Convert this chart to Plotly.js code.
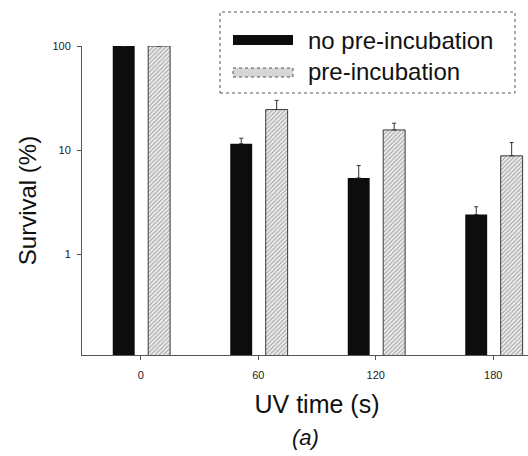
<!DOCTYPE html>
<html>
<head>
<meta charset="utf-8">
<script src="https://cdn.plot.ly/plotly-3.0.1.min.js"></script>
<style>
html, body { margin: 0; padding: 0; overflow: hidden; background: #fff; }
#chart { width: 552px; height: 456px; }
</style>
</head>
<body>
<div id="chart"></div>
<script>
// ---- data ----
const uvTime = [0, 60, 120, 180];
const tickLabelsX = ['0', '60', '120', '180'];
const noPreIncubation = [100, 11.5, 5.4, 2.4];
const noPreIncubationErr = [0, 1.5, 1.7, 0.45];
const preIncubation = [100, 24.5, 15.6, 8.8];
const preIncubationErr = [0, 5.5, 2.5, 3.0];
const tickValsY = [1, 10, 100];
const tickLabelsY = ['1', '10', '100'];
const seriesNames = ['no pre-incubation', 'pre-incubation'];

// ---- layout geometry (pixels) ----
const W = 552, H = 456;
const M = { l: 82, r: 0, t: 46, b: 101 };
const PW = W - M.l - M.r, PH = H - M.t - M.b;
const px = x => (x - M.l) / PW;
const py = y => (H - M.b - y) / PH;

const font = 'Liberation Sans, Arial, sans-serif';

const traces = [
  {
    type: 'bar', name: seriesNames[0], x: uvTime, y: noPreIncubation,
    width: 11.2, offset: -14.3,
    marker: { color: '#0d0d0d', line: { color: '#0d0d0d', width: 0 } },
    error_y: { type: 'data', symmetric: false, array: noPreIncubationErr,
               arrayminus: noPreIncubation.map(() => 0), color: '#333', thickness: 1, width: 2 },
    showlegend: false, hoverinfo: 'x+y'
  },
  {
    type: 'bar', name: seriesNames[1], x: uvTime, y: preIncubation,
    width: 11.2, offset: 3.8,
    marker: { color: '#e4e4e4', line: { color: '#3a3a3a', width: 1 },
              pattern: { shape: '/', fgcolor: '#9a9a9a', bgcolor: '#ececec', size: 3, solidity: 0.3 } },
    error_y: { type: 'data', symmetric: false, array: preIncubationErr,
               arrayminus: preIncubation.map(() => 0), color: '#333', thickness: 1, width: 2 },
    showlegend: false, hoverinfo: 'x+y'
  }
];

const shapes = [
  // legend box
  { type: 'rect', xref: 'paper', yref: 'paper', x0: px(220), x1: px(515), y0: py(93), y1: py(12),
    line: { color: '#555', width: 1, dash: 'dot' }, fillcolor: 'rgba(255,255,255,0)' },
  // legend swatches
  { type: 'rect', xref: 'paper', yref: 'paper', x0: px(233), x1: px(293), y0: py(45), y1: py(35),
    line: { color: '#0d0d0d', width: 0 }, fillcolor: '#0d0d0d' },
  { type: 'rect', xref: 'paper', yref: 'paper', x0: px(233), x1: px(293), y0: py(77), y1: py(68),
    line: { color: '#555', width: 1, dash: 'dot' }, fillcolor: '#d6d6d6' }
];

const annotations = [
  { xref: 'paper', yref: 'paper', x: px(306), y: py(40), xanchor: 'left', yanchor: 'middle',
    text: seriesNames[0], showarrow: false, font: { family: font, size: 24, color: '#111' } },
  { xref: 'paper', yref: 'paper', x: px(306), y: py(71), xanchor: 'left', yanchor: 'middle',
    text: seriesNames[1], showarrow: false, font: { family: font, size: 24, color: '#111' } },
  { xref: 'paper', yref: 'paper', x: px(305), y: py(437), xanchor: 'center', yanchor: 'middle',
    text: '<i>(a)</i>', showarrow: false, font: { family: font, size: 22, color: '#111' } }
];

const layout = {
  width: W, height: H,
  margin: M,
  paper_bgcolor: '#fff', plot_bgcolor: '#fff',
  barmode: 'overlay',
  showlegend: false,
  font: { family: font, color: '#222' },
  xaxis: {
    range: [-30, 210], tickvals: uvTime, ticktext: tickLabelsX,
    showgrid: false, zeroline: false, showline: true, linecolor: '#555', linewidth: 1,
    ticks: 'outside', ticklen: 4, tickcolor: '#555', ticklabelstandoff: 6,
    tickfont: { family: font, size: 11, color: '#222' },
    title: { text: 'UV time (s)', font: { family: font, size: 25, color: '#111' }, standoff: 15 },
    automargin: false
  },
  yaxis: {
    type: 'log', range: [-0.97, 2], tickvals: tickValsY, ticktext: tickLabelsY,
    showgrid: false, zeroline: false, showline: true, linecolor: '#555', linewidth: 1,
    ticks: 'outside', ticklen: 4, tickcolor: '#555', ticklabelstandoff: 4,
    tickfont: { family: font, size: 11, color: '#222' },
    title: { text: 'Survival (%)', font: { family: font, size: 24, color: '#111' }, standoff: 9 },
    automargin: false
  },
  shapes: shapes,
  annotations: annotations
};

Plotly.newPlot('chart', traces, layout, { displayModeBar: false, staticPlot: true });
</script>
</body>
</html>
